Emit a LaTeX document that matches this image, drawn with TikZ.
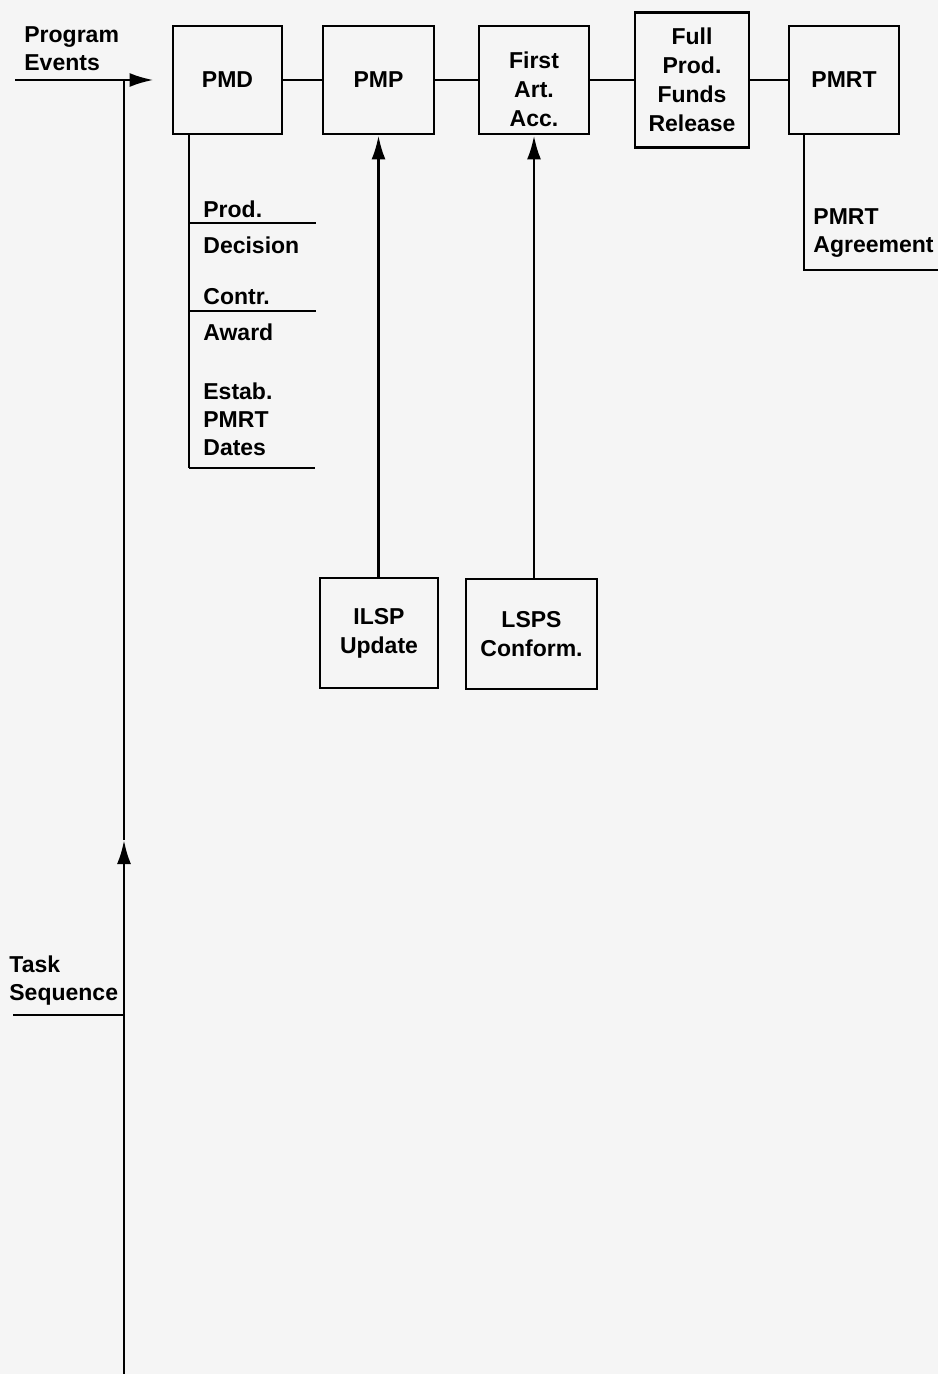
\documentclass[tikz,border=0pt]{standalone}
\usepackage{fontspec}
\setmainfont{Liberation Sans}
\usetikzlibrary{arrows.meta}

\tikzset{
  evbox/.style={draw, line width=1.4pt, align=center, inner sep=0pt,
    font=\bfseries\fontsize{11.5}{14.5}\selectfont},
  lbl/.style={anchor=north west, align=left, inner sep=0pt,
    font=\bfseries\fontsize{11.5}{14}\selectfont},
  flow/.style={-{Latex[length=12pt,width=7pt]}},
}

\begin{document}
\begin{tikzpicture}[x=0.5pt,y=-0.5pt,line width=1.4pt]
          \fill[black!4] (0,0) rectangle (938,1374);
          \useasboundingbox (0,0) rectangle (938,1374);
          % event boxes
          \node[evbox,minimum width=54.5pt,minimum height=54pt] (pmd) at (227.5,80) {PMD};
          \node[evbox,minimum width=55.5pt,minimum height=54pt] (pmp) at (378.5,80) {PMP};
          \node[evbox,minimum width=55pt,minimum height=54pt,
                label={[evbox,draw=none,yshift=-4.5pt]center:{First\\Art.\\Acc.}}] (first) at (534,80) {};
          \node[evbox,minimum width=57pt,minimum height=67.5pt] (full) at (692,80) {Full\\Prod.\\Funds\\Release};
          \node[evbox,minimum width=55pt,minimum height=54pt] (pmrt) at (844,80) {PMRT};
          \node[evbox,minimum width=59pt,minimum height=55pt] (ilsp) at (379,633) {ILSP\\Update};
          \node[evbox,minimum width=65.5pt,minimum height=55pt] (lsps) at (531.5,634) {LSPS\\Conform.};
          \draw (pmd.east) -- (pmp.west);
          \draw (pmp.east) -- (first.west);
          \draw (first.east) -- (full.west);
          \draw (full.east) -- (pmrt.west);
          \draw[flow] (ilsp.north -| pmp.south) -- (pmp.south);
          \draw[flow] (lsps.north -| first.south) -- (first.south);
          % side labels
          \node[lbl] (prog) at (23,25) {Program\\Events};
          \node[lbl] (task) at (8,954) {Task\\Sequence};
          \coordinate (pein) at (15,80);
          \coordinate (tsin) at (13,1015);
          \coordinate (bottom) at (124,1374);
          \coordinate (sequp) at (124,840);
          \coordinate (corner) at (124,80);
          \draw[flow] (bottom) -- (sequp);
          \draw (sequp) -- (corner);
          \draw (tsin) -- (tsin -| bottom);
          \draw[flow,shorten >=9pt] (pein) -- (pmd.west);
          % PMD milestones
          \coordinate (d1) at (189,223);
          \coordinate (d2) at (189,311);
          \coordinate (d3) at (189,468);
          \draw (pmd.south -| d1) -- (d3);
          \draw (d1) -- +(127,0)
                (d2) -- +(127,0)
                (d3) -- +(126,0);
          \node[lbl] (prod) at (202,199) {Prod.};
          \node[lbl] (decis) at (202,235) {Decision};
          \node[lbl] (contr) at (202,287) {Contr.};
          \node[lbl] (award) at (202,322) {Award};
          \node[lbl] (estab) at (202,381) {Estab.\\PMRT\\Dates};
          % PMRT agreement
          \coordinate (r1) at (804,270);
          \draw (pmrt.south -| r1) -- (r1) -- (938,270);
          \node[lbl] (agree) at (812,207) {PMRT\\Agreement};
        \end{tikzpicture}
\end{document}
